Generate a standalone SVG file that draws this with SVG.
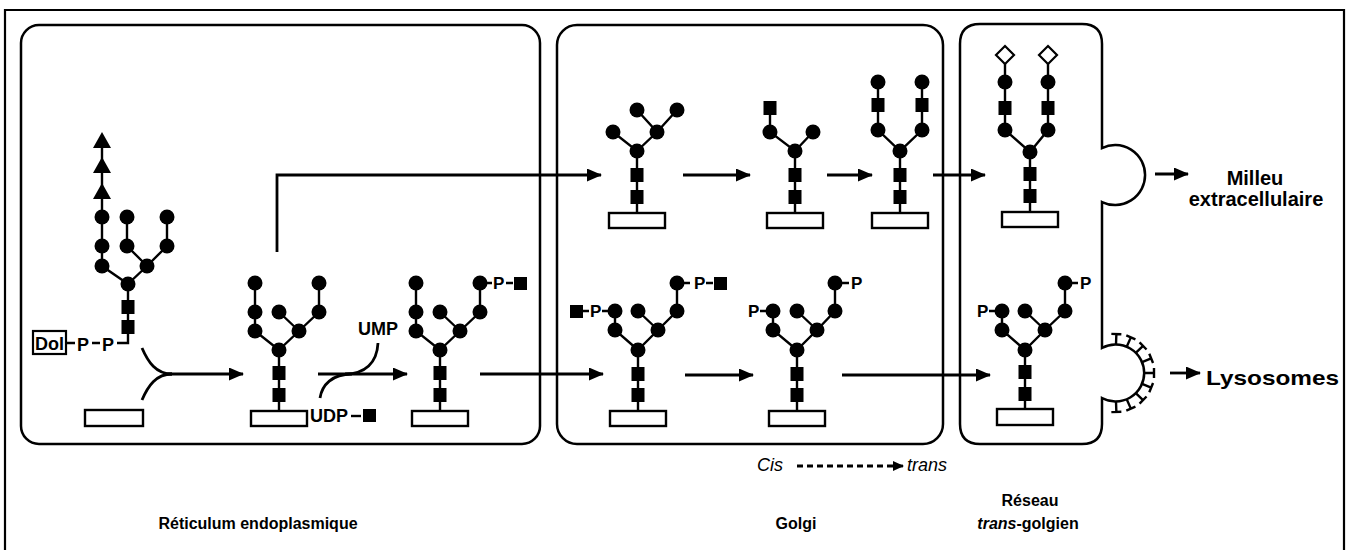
<svg xmlns="http://www.w3.org/2000/svg" width="1355" height="550" viewBox="0 0 1355 550">
<style>
.frame{fill:none;stroke:#000;stroke-width:2.2}
.box{fill:none;stroke:#000;stroke-width:2.5}
.bond{fill:none;stroke:#000;stroke-width:2.4}
.man{fill:#000}
.man circle{r:7.5px}
.nag{fill:#000}
.glc{fill:#000}
.prot{fill:#fff;stroke:#000;stroke-width:2.4}
.sia{fill:#fff;stroke:#000;stroke-width:2.2}
.flow{fill:none;stroke:#000;stroke-width:2.8}
.dash{fill:none;stroke:#000;stroke-width:3;stroke-dasharray:6 4}
.txt{font-family:"Liberation Sans",Arial,Helvetica,sans-serif;fill:#000}
.sm{font-size:17px;font-weight:bold}
.md{font-size:18px;font-weight:bold}
.lb{font-size:16px;font-weight:bold}
.big{font-size:20px;font-weight:bold}
</style>
<defs>
<marker id="ah" markerUnits="userSpaceOnUse" markerWidth="15" markerHeight="13" refX="14" refY="6.5" orient="auto"><path d="M0,0 L15,6.5 L0,13 z"/></marker>
<marker id="ahs" markerUnits="userSpaceOnUse" markerWidth="11" markerHeight="10" refX="10" refY="5" orient="auto"><path d="M0,0 L11,5 L0,10 z"/></marker>
<path id="spike" d="M28.5,0 H39 M39,-5 V5"/>
</defs>

<!-- outer frame -->
<path class="frame" d="M5,551 V10 H1344 V551"/>

<!-- compartments -->
<g id="er">
<rect class="box" x="21" y="25" width="519" height="419" rx="18"/>
</g>
<g id="golgi">
<rect class="box" x="557" y="25" width="386" height="419" rx="20"/>
</g>
<g id="tgn">
<path class="box" d="M980,24 H1082 Q1102,24 1102,44 V148 A30,30 0 1 1 1102,202 V348 A28.5,28.5 0 1 1 1102,398 V424 Q1102,444 1082,444 H980 Q960,444 960,424 V44 Q960,24 980,24 Z"/>
<g class="bond">
<use href="#spike" transform="translate(1115,373) rotate(-88)"/>
<use href="#spike" transform="translate(1115,373) rotate(-66)"/>
<use href="#spike" transform="translate(1115,373) rotate(-44)"/>
<use href="#spike" transform="translate(1115,373) rotate(-22)"/>
<use href="#spike" transform="translate(1115,373) rotate(0)"/>
<use href="#spike" transform="translate(1115,373) rotate(22)"/>
<use href="#spike" transform="translate(1115,373) rotate(44)"/>
<use href="#spike" transform="translate(1115,373) rotate(66)"/>
<use href="#spike" transform="translate(1115,373) rotate(88)"/>
</g>
</g>

<!-- lipid-linked precursor -->
<g id="dol-precursor">
<path class="bond" d="M102,140 V266 L128,284 M127,217 V246 L147,266 M167,217 V246 L147,266 L128,284 V343 H117"/>
<polygon class="glc" points="102,132 93,148 111,148"/>
<polygon class="glc" points="102,157 93,173 111,173"/>
<polygon class="glc" points="102,183 93,199 111,199"/>
<g class="man">
<circle cx="102" cy="217" r="7.5"/><circle cx="102" cy="246" r="7.5"/><circle cx="102" cy="266" r="7.5"/>
<circle cx="127" cy="217" r="7.5"/><circle cx="127" cy="246" r="7.5"/><circle cx="147" cy="266" r="7.5"/>
<circle cx="167" cy="217" r="7.5"/><circle cx="167" cy="246" r="7.5"/><circle cx="128" cy="284" r="7.5"/>
</g>
<rect class="nag" x="121.5" y="300" width="13" height="14"/>
<rect class="nag" x="121.5" y="320" width="13" height="14"/>
<rect x="33" y="331" width="33" height="23" fill="#fff" stroke="#000" stroke-width="2.2"/>
<text class="txt md" x="35" y="350">Dol</text>
<path class="bond" d="M67,343 H75 M92,343 H100"/>
<text class="txt md" x="77" y="351">P</text>
<text class="txt md" x="102" y="351">P</text>
</g>

<g id="er-protein">
<rect class="prot" x="85" y="410" width="58" height="16"/>
</g>

<!-- ER: core transferred -->
<g id="er-glycan-1">
<path class="bond" d="M255,283 V331 L279,350 M279,312 L299,331 M319,283 V312 L299,331 L279,350 V411"/>
<g class="man">
<circle cx="255" cy="283" r="7.5"/><circle cx="255" cy="312" r="7.5"/><circle cx="255" cy="331" r="7.5"/>
<circle cx="279" cy="312" r="7.5"/><circle cx="299" cy="331" r="7.5"/>
<circle cx="319" cy="283" r="7.5"/><circle cx="319" cy="312" r="7.5"/><circle cx="279" cy="350" r="7.5"/>
</g>
<rect class="nag" x="272.5" y="366" width="13" height="14"/>
<rect class="nag" x="272.5" y="388" width="13" height="14"/>
<rect class="prot" x="251" y="411" width="56" height="15"/>
</g>

<!-- ER: GlcNAc-P added -->
<g id="er-glycan-2">
<path class="bond" d="M416,283 V331 L440,350 M440,312 L460,331 M480,283 V312 L460,331 L440,350 V411 M487,283 H492 M506,283 H513"/>
<g class="man">
<circle cx="416" cy="283" r="7.5"/><circle cx="416" cy="312" r="7.5"/><circle cx="416" cy="331" r="7.5"/>
<circle cx="440" cy="312" r="7.5"/><circle cx="460" cy="331" r="7.5"/>
<circle cx="480" cy="283" r="7.5"/><circle cx="480" cy="312" r="7.5"/><circle cx="440" cy="350" r="7.5"/>
</g>
<rect class="nag" x="433.5" y="366" width="13" height="14"/>
<rect class="nag" x="433.5" y="388" width="13" height="14"/>
<text class="txt sm" x="493" y="289">P</text>
<rect class="nag" x="514" y="277" width="13" height="13"/>
<rect class="prot" x="412" y="411" width="56" height="15"/>
</g>

<!-- Golgi, secreted route -->
<g id="golgi-top-1">
<path class="bond" d="M613,132 L637,151 L657,132 L637,110 M657,132 L677,110 M637,151 V213"/>
<g class="man">
<circle cx="637" cy="151" r="7.5"/><circle cx="613" cy="132" r="7.5"/><circle cx="657" cy="132" r="7.5"/>
<circle cx="637" cy="110" r="7.5"/><circle cx="677" cy="110" r="7.5"/>
</g>
<rect class="nag" x="630.5" y="168" width="13" height="14"/>
<rect class="nag" x="630.5" y="190" width="13" height="14"/>
<rect class="prot" x="609" y="213" width="56" height="15"/>
</g>

<g id="golgi-top-2">
<path class="bond" d="M770,108 V132 L795,151 L813,132 M795,151 V213"/>
<g class="man">
<circle cx="795" cy="151" r="7.5"/><circle cx="770" cy="132" r="7.5"/><circle cx="813" cy="132" r="7.5"/>
</g>
<rect class="nag" x="763.5" y="101" width="13" height="14"/>
<rect class="nag" x="788.5" y="168" width="13" height="14"/>
<rect class="nag" x="788.5" y="190" width="13" height="14"/>
<rect class="prot" x="767" y="213" width="56" height="15"/>
</g>

<g id="golgi-top-3">
<path class="bond" d="M878,82 V130 L900,151 L922,130 V82 M900,151 V213"/>
<g class="man">
<circle cx="900" cy="151" r="7.5"/><circle cx="878" cy="130" r="7.5"/><circle cx="878" cy="82" r="7.5"/>
<circle cx="922" cy="130" r="7.5"/><circle cx="922" cy="82" r="7.5"/>
</g>
<rect class="nag" x="871.5" y="98" width="13" height="14"/>
<rect class="nag" x="915.5" y="98" width="13" height="14"/>
<rect class="nag" x="893.5" y="168" width="13" height="14"/>
<rect class="nag" x="893.5" y="190" width="13" height="14"/>
<rect class="prot" x="872" y="213" width="56" height="15"/>
</g>

<g id="tgn-top">
<path class="bond" d="M1005,63 V130 L1030,152 L1048,130 V63 M1030,152 V212"/>
<polygon class="sia" points="1005,46 1014,55 1005,64 996,55"/>
<polygon class="sia" points="1048,46 1057,55 1048,64 1039,55"/>
<g class="man">
<circle cx="1005" cy="82" r="7.5"/><circle cx="1005" cy="130" r="7.5"/>
<circle cx="1048" cy="82" r="7.5"/><circle cx="1048" cy="130" r="7.5"/><circle cx="1030" cy="152" r="7.5"/>
</g>
<rect class="nag" x="998.5" y="101" width="13" height="14"/>
<rect class="nag" x="1041.5" y="101" width="13" height="14"/>
<rect class="nag" x="1023.5" y="167" width="13" height="14"/>
<rect class="nag" x="1023.5" y="189" width="13" height="14"/>
<rect class="prot" x="1002" y="212" width="56" height="15"/>
</g>

<!-- Golgi, lysosomal route -->
<g id="golgi-bottom-1">
<path class="bond" d="M615,311 V330 L638,350 M638,311 L658,330 M677,283 V311 L658,330 L638,350 V411 M583,311 H589 M602,311 H608 M684,283 H690 M706,283 H713"/>
<g class="man">
<circle cx="615" cy="311" r="7.5"/><circle cx="615" cy="330" r="7.5"/><circle cx="638" cy="311" r="7.5"/>
<circle cx="658" cy="330" r="7.5"/><circle cx="677" cy="283" r="7.5"/><circle cx="677" cy="311" r="7.5"/>
<circle cx="638" cy="350" r="7.5"/>
</g>
<rect class="nag" x="570" y="305" width="13" height="13"/>
<text class="txt sm" x="590" y="317">P</text>
<text class="txt sm" x="694" y="289">P</text>
<rect class="nag" x="714" y="277" width="13" height="13"/>
<rect class="nag" x="631.5" y="367" width="13" height="14"/>
<rect class="nag" x="631.5" y="388" width="13" height="14"/>
<rect class="prot" x="610" y="411" width="56" height="15"/>
</g>

<g id="golgi-bottom-2">
<path class="bond" d="M773,311 V330 L797,350 M797,311 L817,330 M835,283 V311 L817,330 L797,350 V411 M760,311 H766 M842,283 H849"/>
<g class="man">
<circle cx="773" cy="311" r="7.5"/><circle cx="773" cy="330" r="7.5"/><circle cx="797" cy="311" r="7.5"/>
<circle cx="817" cy="330" r="7.5"/><circle cx="835" cy="283" r="7.5"/><circle cx="835" cy="311" r="7.5"/>
<circle cx="797" cy="350" r="7.5"/>
</g>
<text class="txt sm" x="748" y="317">P</text>
<text class="txt sm" x="851" y="289">P</text>
<rect class="nag" x="790.5" y="367" width="13" height="14"/>
<rect class="nag" x="790.5" y="388" width="13" height="14"/>
<rect class="prot" x="769" y="411" width="56" height="15"/>
</g>

<g id="tgn-bottom">
<path class="bond" d="M1002,311 V330 L1025,350 M1025,311 L1045,330 M1065,283 V311 L1045,330 L1025,350 V409 M989,311 H995 M1072,283 H1078"/>
<g class="man">
<circle cx="1002" cy="311" r="7.5"/><circle cx="1002" cy="330" r="7.5"/><circle cx="1025" cy="311" r="7.5"/>
<circle cx="1045" cy="330" r="7.5"/><circle cx="1065" cy="283" r="7.5"/><circle cx="1065" cy="311" r="7.5"/>
<circle cx="1025" cy="350" r="7.5"/>
</g>
<text class="txt sm" x="977" y="317">P</text>
<text class="txt sm" x="1080" y="289">P</text>
<rect class="nag" x="1018.5" y="365" width="13" height="14"/>
<rect class="nag" x="1018.5" y="387" width="13" height="14"/>
<rect class="prot" x="997" y="409" width="56" height="16"/>
</g>

<!-- reaction labels -->
<g id="nucleotides">
<text class="txt md" x="358" y="335">UMP</text>
<text class="txt md" x="310" y="422">UDP</text>
<path class="bond" d="M351,416 H361"/>
<rect class="nag" x="363" y="409" width="13" height="13"/>
</g>

<!-- transport steps -->
<g id="connectors">
<path class="flow" d="M142,348 C148,362 156,374 172,374"/>
<path class="flow" d="M142,400 C148,386 156,374 172,374"/>
<path class="flow" d="M166,374 H243" marker-end="url(#ah)"/>
<path class="flow" d="M318,374 H407" marker-end="url(#ah)"/>
<path class="flow" d="M320,398 C322,385 332,374 352,374"/>
<path class="flow" d="M345,374 C365,374 377,363 378,343"/>
<path class="flow" d="M277,252 V175 H601" marker-end="url(#ah)"/>
<path class="flow" d="M480,374 H603" marker-end="url(#ah)"/>
<path class="flow" d="M683,175 H750" marker-end="url(#ah)"/>
<path class="flow" d="M827,175 H872" marker-end="url(#ah)"/>
<path class="flow" d="M933,175 H985" marker-end="url(#ah)"/>
<path class="flow" d="M685,375 H753" marker-end="url(#ah)"/>
<path class="flow" d="M842,375 H990" marker-end="url(#ah)"/>
<path class="flow" d="M1155,174 H1188" marker-end="url(#ah)"/>
<path class="flow" d="M1170,373 H1200" marker-end="url(#ah)"/>
<path class="dash" d="M797,466 H893"/>
<path class="flow" d="M893,466 H903" marker-end="url(#ahs)"/>
</g>

<!-- destinations and compartment names -->
<g id="labels">
<text class="txt big" x="1255" y="185" text-anchor="middle">Milleu</text>
<text class="txt big" x="1256" y="206" text-anchor="middle">extracellulaire</text>
<text class="txt" x="1206" y="385" font-size="21" font-weight="bold" textLength="133" lengthAdjust="spacingAndGlyphs">Lysosomes</text>
<text class="txt" x="757" y="471" font-size="18" font-style="italic">Cis</text>
<text class="txt" x="907" y="471" font-size="18" font-style="italic">trans</text>
<text class="txt lb" x="258" y="529" text-anchor="middle">Réticulum endoplasmique</text>
<text class="txt lb" x="796" y="529" text-anchor="middle">Golgi</text>
<text class="txt lb" x="1030" y="506" text-anchor="middle">Réseau</text>
<text class="txt lb" x="1028" y="529" text-anchor="middle"><tspan font-style="italic">trans</tspan>-golgien</text>
</g>
</svg>
